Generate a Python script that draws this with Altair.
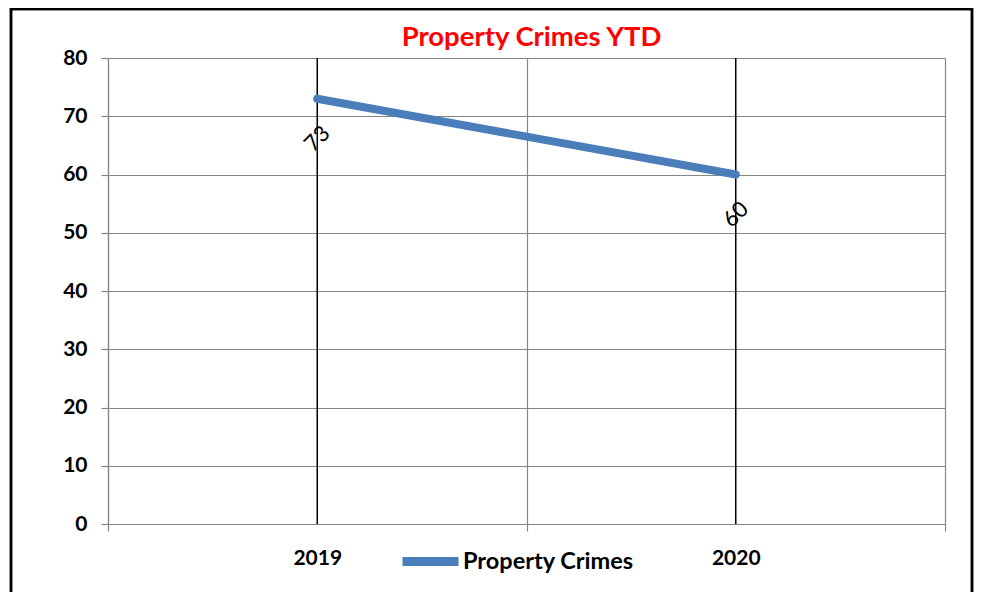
import altair as alt
import pandas as pd

# ---- data ----
years = ["2019", "2020"]
crimes = [73, 60]
series_name = ["Property Crimes", "Property Crimes"]
y_ticks = [0, 10, 20, 30, 40, 50, 60, 70, 80]

df = pd.DataFrame({"year": years, "crimes": crimes, "series": series_name})

W, H = 837, 466
FONT = "Lato"
GRID = "#868686"
BLUE = "#4a7ebb"

x_enc = alt.X(
    "year:N",
    scale=alt.Scale(type="band", paddingInner=0, paddingOuter=0),
    axis=alt.Axis(
        title=None, labelAngle=0, tickBand="extent", grid=True,
        gridColor=GRID, gridWidth=1.2, domainColor=GRID, domainWidth=1.2,
        tickColor=GRID, tickWidth=1.2, tickSize=7,
        labelFont=FONT, labelFontSize=21, labelFontWeight="bold",
        labelColor="black", labelPadding=16,
    ),
)
y_enc = alt.Y(
    "crimes:Q",
    scale=alt.Scale(domain=[0, 80], nice=False, zero=True),
    axis=alt.Axis(
        title=None, values=y_ticks, grid=True,
        gridColor=GRID, gridWidth=1.2, domainColor=GRID, domainWidth=1.2,
        tickColor=GRID, tickWidth=1.2, tickSize=7,
        labelFont=FONT, labelFontSize=21, labelFontWeight="bold",
        labelColor="black", labelPadding=14,
    ),
)

base = alt.Chart(df)

drop = base.mark_rule(color="black", strokeWidth=1.5).encode(x=x_enc)

line = base.mark_line(strokeWidth=8, strokeCap="round").encode(
    x=x_enc,
    y=y_enc,
    color=alt.Color(
        "series:N",
        scale=alt.Scale(domain=["Property Crimes"], range=[BLUE]),
        legend=alt.Legend(
            title=None, orient="none", legendX=290, legendY=471,
            symbolType="stroke", symbolSize=3136, symbolStrokeWidth=9,
            labelFont=FONT, labelFontSize=23.5, labelFontWeight="bold",
            labelColor="black", labelOffset=0, labelLimit=400, padding=0,
        ),
    ),
)

labels = base.mark_text(
    angle=315, radius=40, theta=3.14159, fontSize=22, font=FONT,
    color="black", align="center", baseline="middle",
).encode(x=x_enc, y=y_enc, text="crimes:Q")

frame = base.mark_rect(filled=False, stroke="black", strokeWidth=2.5).encode(
    x=alt.value(-97), x2=alt.value(864), y=alt.value(-49), y2=alt.value(545)
)

chart = (
    alt.layer(drop, line, labels, frame)
    .properties(
        width=W,
        height=H,
        autosize=alt.AutoSizeParams(type="none"),
        padding={"left": 100, "top": 50, "right": 29, "bottom": 68},
        title=alt.TitleParams(
            "Property Crimes YTD", color="#ff0000", fontSize=27.5, font=FONT,
            fontWeight="bold", anchor="middle", offset=-44, dx=5,
        ),
        background="white",
    )
    .configure_view(stroke=None)
)

chart.save("out.html", embed_options={"renderer": "svg", "actions": False})
